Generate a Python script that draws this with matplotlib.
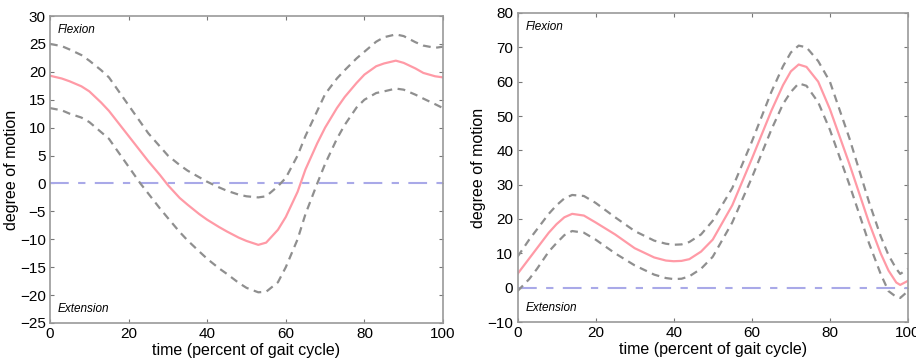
import matplotlib
matplotlib.use("Agg")
import matplotlib.pyplot as plt

plt.rcParams['font.family'] = ['Liberation Sans', 'DejaVu Sans']

# ---- left panel data ----
x_left = [0, 3, 5, 8, 10, 13, 15, 18, 20, 23, 25, 28, 30, 33, 35, 38, 40, 43, 45, 48, 50, 53, 55, 58, 60, 63, 65, 68, 70, 73, 75, 78, 80, 83, 85, 88, 90, 93, 95, 98, 100]
mean_left = [19.3, 18.8, 18.3, 17.4, 16.5, 14.5, 13, 10.3, 8.5, 5.8, 4, 1.5, -0.3, -2.6, -3.8, -5.5, -6.5, -7.8, -8.6, -9.7, -10.3, -11, -10.6, -8.3, -6, -1.5, 2.5, 7.2, 10, 13.5, 15.5, 18, 19.5, 21, 21.5, 22, 21.6, 20.6, 19.8, 19.2, 19]
upper_left = [25, 24.6, 24, 23, 22, 20.3, 19, 16, 14, 11, 9, 6.6, 5, 3.3, 2.3, 1.1, 0.3, -0.7, -1.3, -2, -2.3, -2.5, -2.3, -0.5, 1, 5, 8.5, 13, 16, 18.8, 20.3, 22.4, 23.6, 25.4, 26.2, 26.7, 26.4, 25.3, 24.7, 24.3, 24.5]
lower_left = [13.5, 13.1, 12.5, 11.8, 11, 9.2, 8, 5, 3, 0, -1.8, -4.5, -6.2, -8.7, -10.2, -12.2, -13.5, -15.2, -16.2, -17.8, -18.7, -19.5, -19.4, -17.7, -15, -10, -5.5, 0, 3.5, 8, 10.5, 13.6, 15, 16.2, 16.5, 17, 16.8, 15.9, 15.2, 14.2, 13.5]

# ---- right panel data ----
x_right = [0, 3, 5, 8, 10, 12, 14, 17, 20, 25, 30, 35, 38, 40, 42, 44, 47, 50, 55, 60, 65, 68, 70, 72, 74, 77, 80, 85, 90, 93, 95, 97, 98, 100]
mean_right = [4, 8.5, 11.5, 16, 18.5, 20.5, 21.5, 21, 19, 15.5, 11.5, 8.8, 7.9, 7.7, 7.8, 8.3, 10.5, 14, 24, 37.5, 51.5, 59, 63, 65, 64.3, 60, 52, 36, 19, 10, 5, 1.5, 0.8, 2]
upper_right = [9, 14, 17, 21.5, 24, 26, 27, 26.7, 24.7, 20.5, 16.5, 13.7, 12.8, 12.5, 12.6, 13.3, 15.5, 19.5, 29, 42.5, 57, 64.5, 68.5, 70.5, 70, 66, 60, 43.5, 25, 15, 9.5, 5.5, 4, 5.5]
lower_right = [-1, 2.5, 5.5, 10.5, 13, 15.3, 16.5, 16, 14, 10, 6.5, 3.8, 2.8, 2.5, 2.6, 3.3, 5.5, 9, 19, 32, 46, 53.5, 57, 59.5, 58.8, 54, 46, 30, 13, 4, -1, -2.7, -3, -1]

x_ticks = [0, 20, 40, 60, 80, 100]
xlabel = "time (percent of gait cycle)"
ylabel = "degree of motion"

fig = plt.figure(figsize=(9.16, 3.61), dpi=100)
ax1 = fig.add_axes([50/916, 1-323/361, 393/916, 307/361])
ax2 = fig.add_axes([517.5/916, 1-322/361, 390.5/916, 309/361])

edge = '#9a9a9a'
mean_c = '#ff9aa6'
band_c = '#8f8f8f'
zero_c = '#a9a9e8'

def style(ax, ylim, yticks):
    ax.set_xlim(0, 100)
    ax.set_ylim(*ylim)
    ax.set_xticks(x_ticks)
    ax.set_yticks(yticks)
    ax.tick_params(direction='in', top=True, right=True, length=3, width=0.8,
                   color='#777777', labelsize=11, pad=3, labelcolor='black')
    for s in ax.spines.values():
        s.set_color(edge)
        s.set_linewidth(1.2)
    ax.set_xlabel(xlabel, fontsize=11.5, labelpad=1)
    ax.set_ylabel(ylabel, fontsize=11.5, labelpad=1)

for ax, x, m, u, l, ylim, yt in [
        (ax1, x_left, mean_left, upper_left, lower_left, (-25, 30), list(range(-25, 31, 5))),
        (ax2, x_right, mean_right, upper_right, lower_right, (-10, 80), list(range(-10, 81, 10)))]:
    ax.plot([0, 100], [0, 0], color=zero_c, lw=1.5, linestyle=(0, (9, 4.5, 3.5, 4.5)))
    ax.plot(x, u, color=band_c, lw=1.6, linestyle=(0, (3.5, 2.5)))
    ax.plot(x, l, color=band_c, lw=1.6, linestyle=(0, (3.5, 2.5)))
    ax.plot(x, m, color=mean_c, lw=1.6)
    style(ax, ylim, yt)
    ax.text(0.02, 0.975, 'Flexion', transform=ax.transAxes, fontsize=8.5,
            style='italic', va='top', ha='left')
    ax.text(0.02, 0.025, 'Extension', transform=ax.transAxes, fontsize=8.5,
            style='italic', va='bottom', ha='left')

fig.savefig('out.png', dpi=100)
